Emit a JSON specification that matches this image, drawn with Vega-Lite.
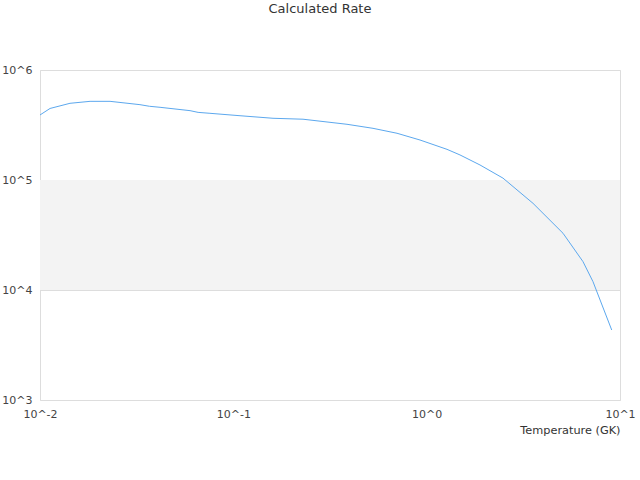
{
  "$schema": "https://vega.github.io/schema/vega-lite/v6.json",
  "width": 580,
  "height": 330,
  "autosize": {"type": "none"},
  "padding": {"left": 40, "top": 70, "right": 20, "bottom": 80},
  "background": "white",
  "title": {
    "text": "Calculated Rate",
    "font": "DejaVu Sans",
    "fontSize": 13,
    "fontWeight": "normal",
    "color": "#333",
    "offset": 48,
    "dx": -10
  },
  "layer": [
    {
      "data": {"values": [{"lo": 10000, "hi": 100000}]},
      "mark": {"type": "rect", "color": "#f3f3f3"},
      "encoding": {
        "y": {"field": "lo", "type": "quantitative", "scale": {"type": "log", "domain": [1000, 1000000]}},
        "y2": {"field": "hi"}
      }
    },
    {
      "data": {
        "values": [
          {"T": 0.01, "rate": 390000},
          {"T": 0.01127, "rate": 447000},
          {"T": 0.01429, "rate": 498000},
          {"T": 0.01815, "rate": 519000},
          {"T": 0.02303, "rate": 519000},
          {"T": 0.03289, "rate": 484000},
          {"T": 0.0368, "rate": 468000},
          {"T": 0.04178, "rate": 458000},
          {"T": 0.0597, "rate": 427000},
          {"T": 0.0657, "rate": 412000},
          {"T": 0.07568, "rate": 404000},
          {"T": 0.1083, "rate": 384000},
          {"T": 0.1604, "rate": 364000},
          {"T": 0.2293, "rate": 357000},
          {"T": 0.3872, "rate": 321000},
          {"T": 0.5277, "rate": 295000},
          {"T": 0.7023, "rate": 266000},
          {"T": 0.9237, "rate": 231000},
          {"T": 1.274, "rate": 190000},
          {"T": 1.487, "rate": 169000},
          {"T": 1.887, "rate": 137000},
          {"T": 2.482, "rate": 104000},
          {"T": 3.548, "rate": 61400},
          {"T": 5.073, "rate": 32800},
          {"T": 6.437, "rate": 18100},
          {"T": 7.251, "rate": 11900},
          {"T": 9.06, "rate": 4330}
        ]
      },
      "mark": {"type": "line", "color": "#5ca8ee", "strokeWidth": 1},
      "encoding": {
        "x": {
          "field": "T",
          "type": "quantitative",
          "title": "Temperature (GK)",
          "scale": {"type": "log", "domain": [0.01, 10]},
          "axis": {
            "values": [0.01, 0.1, 1, 10],
            "labelExpr": "'10^' + round(log(datum.value) / LN10)",
            "labelFlush": false,
            "labelBound": false,
            "grid": false,
            "domain": false,
            "ticks": false,
            "labelPadding": 8,
            "titleAnchor": "end",
            "titlePadding": 5
          }
        },
        "y": {
          "field": "rate",
          "type": "quantitative",
          "title": null,
          "scale": {"type": "log", "domain": [1000, 1000000]},
          "axis": {
            "values": [1000, 10000, 100000, 1000000],
            "labelExpr": "'10^' + round(log(datum.value) / LN10)",
            "labelFlush": false,
            "grid": true,
            "gridColor": "#dddddd",
            "domain": false,
            "ticks": false,
            "labelPadding": 8
          }
        }
      }
    }
  ],
  "config": {
    "view": {"stroke": "#dddddd"},
    "axis": {
      "labelFont": "DejaVu Sans",
      "labelFontSize": 11,
      "labelColor": "#444",
      "titleFont": "DejaVu Sans",
      "titleFontSize": 11.3,
      "titleFontWeight": "normal",
      "titleColor": "#333"
    }
  }
}
